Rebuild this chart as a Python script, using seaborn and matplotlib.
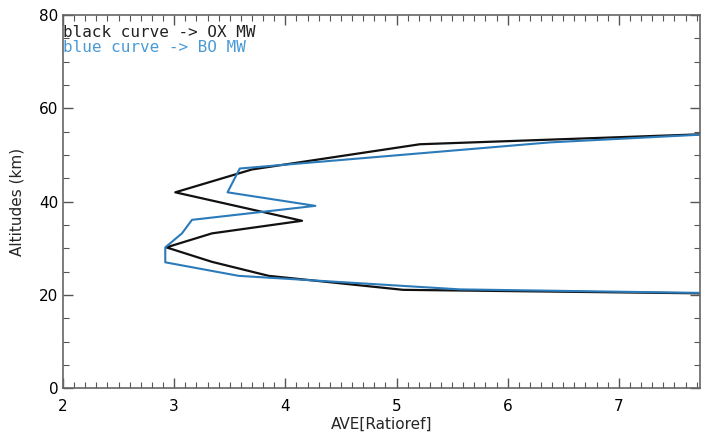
import matplotlib
matplotlib.use("Agg")
import matplotlib.pyplot as plt
import seaborn as sns
import pandas as pd
from matplotlib.ticker import MultipleLocator

# Data
ox_ratio = [9.0, 5.06, 3.85, 3.34, 2.93, 3.34, 4.15, 3.01, 3.70, 5.21, 9.0]
ox_alt = [20.0, 21.1, 24.1, 27.1, 30.2, 33.2, 35.9, 42.0, 46.9, 52.3, 55.5]

bo_ratio = [9.0, 5.57, 3.58, 2.92, 2.92, 3.07, 3.16, 4.27, 3.48, 3.59, 6.38, 9.0]
bo_alt = [20.0, 21.2, 24.1, 27.0, 30.2, 33.2, 36.1, 39.1, 42.0, 47.1, 52.7, 55.9]

x_ticks = [2, 3, 4, 5, 6, 7]
y_ticks = [0, 20, 40, 60, 80]

sns.set_style("ticks")
plt.rcParams['font.family'] = ['DejaVu Sans']

fig = plt.figure(figsize=(7.12, 4.33), dpi=100)
ax = fig.add_axes([63/712, 1-388.3/433, (700-63)/712, (388.3-15)/433])

black_c = "#111111"
blue_line = "#2b7bba"
blue_text = "#4a9ad6"

df_ox = pd.DataFrame({"ratio": ox_ratio, "alt": ox_alt})
df_bo = pd.DataFrame({"ratio": bo_ratio, "alt": bo_alt})
sns.lineplot(data=df_ox, x="ratio", y="alt", sort=False, estimator=None,
             color=black_c, linewidth=1.6, ax=ax)
sns.lineplot(data=df_bo, x="ratio", y="alt", sort=False, estimator=None,
             color=blue_line, linewidth=1.5, ax=ax)

ax.set_xlim(2, 7.73)
ax.set_ylim(0, 80)
ax.set_xticks(x_ticks)
ax.set_yticks(y_ticks)
ax.xaxis.set_minor_locator(MultipleLocator(0.1))
ax.yaxis.set_minor_locator(MultipleLocator(5))
ax.tick_params(which="both", direction="in", top=True, right=True, colors="#555555",
               labelcolor="black", labelsize=11)
ax.tick_params(which="major", length=7, width=1)
ax.tick_params(which="minor", length=4, width=0.8)
ax.tick_params(axis="x", pad=8)
for s in ax.spines.values():
    s.set_color("#666666")
    s.set_linewidth(1.2)

ax.set_xlabel("AVE[Ratioref]", fontsize=11, labelpad=2)
ax.set_ylabel("Altitudes (km)", fontsize=11, labelpad=10)

ax.text(0.0, 0.952, "black curve -> OX MW", transform=ax.transAxes, color="#222222",
        fontsize=11.5, va="center", ha="left", family=["DejaVu Sans Mono"])
ax.text(0.0, 0.914, "blue curve -> BO MW", transform=ax.transAxes, color=blue_text,
        fontsize=11.5, va="center", ha="left", family=["DejaVu Sans Mono"])

fig.savefig("out.png", dpi=100)
